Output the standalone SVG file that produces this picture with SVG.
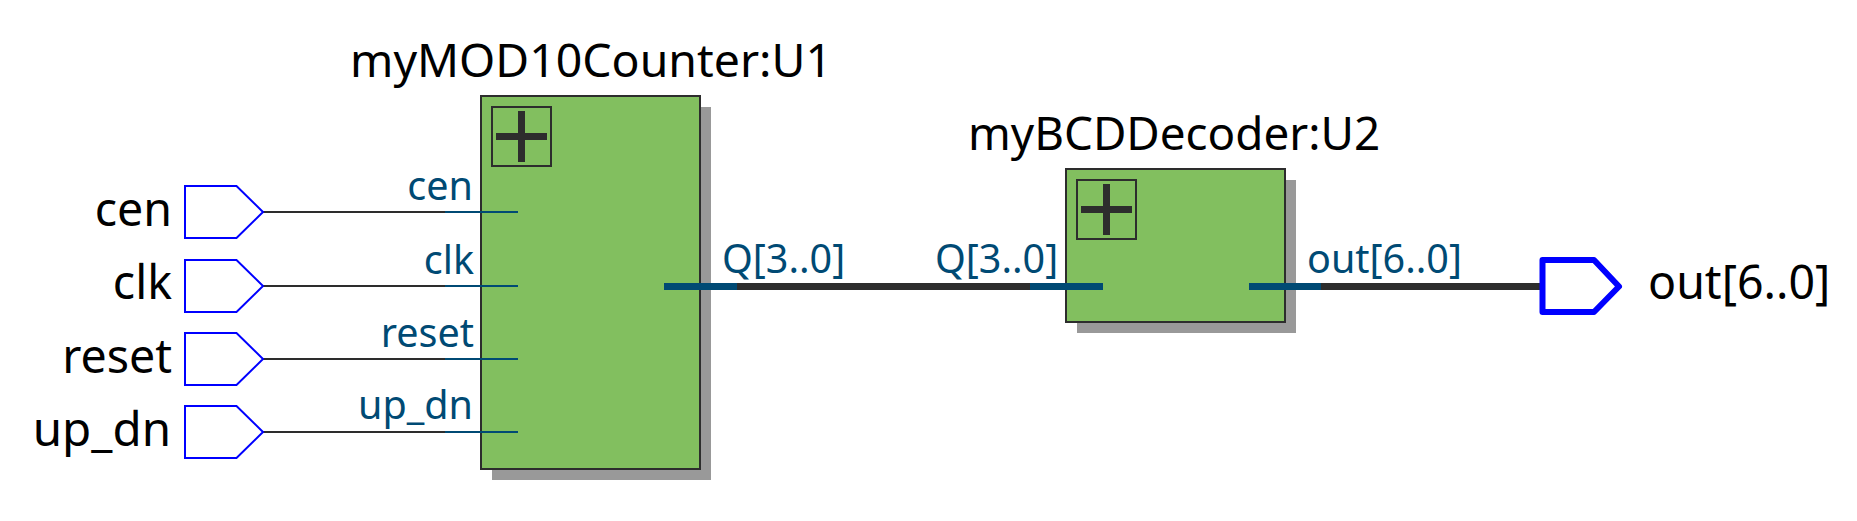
<svg xmlns="http://www.w3.org/2000/svg" width="1857" height="521" viewBox="0 0 1857 521">
<style>
text{font-family:"Noto Sans","Open Sans",sans-serif}
.t{font-size:46.500px;fill:#000}
.h{font-size:46px;fill:#000}
.p{font-size:39.500px;fill:#004a74}
.e{text-anchor:end}
.body{fill:#82bf5f;stroke:#2d2d2d;stroke-width:2}
.sh{fill:#999}
.pb{fill:none;stroke:#2d2d2d;stroke-width:2}
.pl{fill:#2d2d2d}
.in{fill:#fff;stroke:#0000ff;stroke-width:2}
.out{fill:#fff;stroke:#0000ff;stroke-width:6;stroke-linejoin:round}
.w{stroke:#2d2d2d;stroke-width:2;fill:none}
.wb{stroke:#004a74;stroke-width:2;fill:none}
.b{stroke:#2d2d2d;stroke-width:7;fill:none}
.bb{stroke:#004a74;stroke-width:7;fill:none}
</style>
<g id="U1">
<rect class="sh" x="492" y="107" width="219" height="373"/>
<rect class="body" x="481" y="96" width="219" height="373"/>
<rect class="pb" x="492" y="107" width="59" height="59"/>
<rect class="pl" x="518" y="111" width="7" height="51"/>
<rect class="pl" x="496" y="133" width="51" height="7"/>
<text class="h" x="350" y="77" style="font-size:46.400px">myMOD10Counter:U1</text>
</g>
<g id="U2">
<rect class="sh" x="1077" y="180" width="219" height="153"/>
<rect class="body" x="1066" y="169" width="219" height="153"/>
<rect class="pb" x="1077" y="180" width="59" height="59"/>
<rect class="pl" x="1103" y="184" width="7" height="51"/>
<rect class="pl" x="1081" y="206" width="51" height="7"/>
<text class="h" x="968" y="150" style="font-size:45.800px">myBCDDecoder:U2</text>
</g>
<g id="connectors">
<path class="w" d="M263 212H445M263 286H445M263 359H445M263 432H445"/>
<path class="wb" d="M445 212H518M445 286H518M445 359H518M445 432H518"/>
<path class="b" d="M737 286.500H1030M1321 286.500H1542"/>
<path class="bb" d="M664 286.500H737M1030 286.500H1103M1249 286.500H1321"/>
</g>
<g id="pin-cen"><path class="in" d="M185 186H236.500L263 212L236.500 238H185Z"/><text class="t e" x="172" y="226">cen</text><text class="p e" x="473" y="200">cen</text></g>
<g id="pin-clk"><path class="in" d="M185 260H236.500L263 286L236.500 312H185Z"/><text class="t e" x="172" y="299">clk</text><text class="p e" x="474" y="274">clk</text></g>
<g id="pin-reset"><path class="in" d="M185 333H236.500L263 359L236.500 385H185Z"/><text class="t e" x="172" y="373">reset</text><text class="p e" x="474" y="347">reset</text></g>
<g id="pin-up_dn"><path class="in" d="M185 406H236.500L263 432L236.500 458H185Z"/><text class="t e" x="171" y="446" style="font-size:47.500px">up_dn</text><text class="p e" x="473" y="419">up_dn</text></g>
<g id="pin-out"><path class="out" d="M1542.500 260H1594L1619 286.500L1594 312H1542.500Z"/><text class="t" x="1648" y="299">out[6..0]</text></g>
<g id="port-labels">
<text class="p" x="722" y="273">Q[3..0]</text>
<text class="p" x="935" y="273">Q[3..0]</text>
<text class="p" x="1307" y="273">out[6..0]</text>
</g>
</svg>
